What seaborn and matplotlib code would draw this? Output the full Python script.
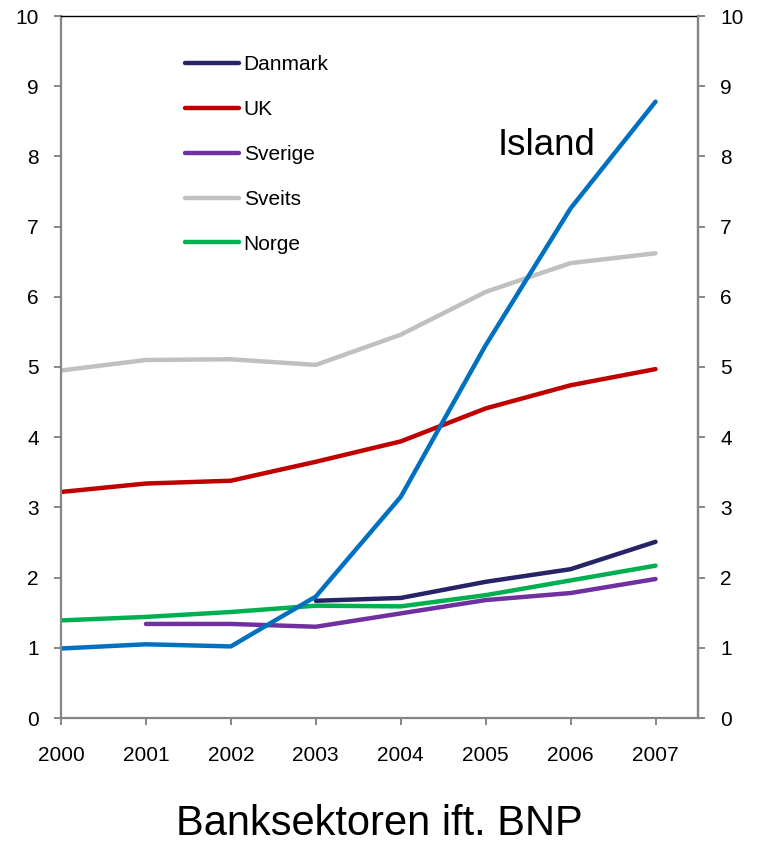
import numpy as np
import pandas as pd
import matplotlib
matplotlib.use("Agg")
import matplotlib.pyplot as plt
from matplotlib.lines import Line2D
import seaborn as sns

years = [2000, 2001, 2002, 2003, 2004, 2005, 2006, 2007]
danmark = [np.nan, np.nan, np.nan, 1.67, 1.71, 1.94, 2.12, 2.51]
uk = [3.22, 3.34, 3.38, 3.65, 3.94, 4.41, 4.74, 4.97]
sverige = [np.nan, 1.34, 1.34, 1.30, 1.49, 1.68, 1.78, 1.98]
sveits = [4.95, 5.10, 5.11, 5.03, 5.46, 6.07, 6.48, 6.62]
norge = [1.39, 1.44, 1.51, 1.60, 1.59, 1.75, 1.96, 2.17]
island = [0.99, 1.05, 1.02, 1.73, 3.15, 5.31, 7.26, 8.78]

series = {
    "Danmark": danmark,
    "UK": uk,
    "Sverige": sverige,
    "Sveits": sveits,
    "Norge": norge,
    "Island": island,
}
colors = {
    "Danmark": "#262466",
    "UK": "#C00000",
    "Sverige": "#7030A0",
    "Sveits": "#C0C0C0",
    "Norge": "#00B050",
    "Island": "#0070C0",
}
legend_order = ["Danmark", "UK", "Sverige", "Sveits", "Norge"]
line_w = 3.2

df = pd.DataFrame(
    [(y, name, v) for name, vals in series.items() for y, v in zip(years, vals)],
    columns=["År", "Land", "Verdi"],
).dropna()

sns.set_style("white")
plt.rcParams["font.family"] = ["Liberation Sans", "DejaVu Sans"]
plt.rcParams["text.color"] = "black"
plt.rcParams["xtick.labelcolor"] = "black"
plt.rcParams["ytick.labelcolor"] = "black"

fig = plt.figure(figsize=(7.58, 8.43), dpi=100)
ax = fig.add_axes([61 / 758, 1 - 718 / 843, 637 / 758, 702 / 843])

sns.lineplot(
    data=df, x="År", y="Verdi", hue="Land", palette=colors,
    linewidth=line_w, ax=ax, legend=False, sort=False,
)
for line in ax.get_lines():
    line.set_solid_capstyle("round")

ax.set_xlim(2000, 2007.5)
ax.set_ylim(0, 10)
ax.set_xticks(years)
ax.set_xticklabels([str(y) for y in years])
ax.set_yticks(range(0, 11))
ax.set_xlabel("")
ax.set_ylabel("")

spine_gray = "#868686"
for side in ["left", "bottom", "right"]:
    ax.spines[side].set_color(spine_gray)
    ax.spines[side].set_linewidth(1.6)
ax.spines["top"].set_color("black")
ax.spines["top"].set_linewidth(1.0)

ax.tick_params(axis="y", which="major", direction="out", length=5, width=1.4,
               color=spine_gray, labelcolor="black", labelsize=15, pad=11,
               left=True)
ax.tick_params(axis="x", which="major", direction="out", length=5, width=1.4,
               color=spine_gray, labelcolor="black", labelsize=15, pad=15,
               bottom=True)

# Mirrored value axis on the right-hand side
ax2 = ax.twinx()
ax2.set_ylim(0, 10)
ax2.set_yticks(range(0, 11))
for side in ["left", "bottom", "top"]:
    ax2.spines[side].set_visible(False)
ax2.spines["right"].set_color(spine_gray)
ax2.spines["right"].set_linewidth(1.6)
ax2.tick_params(axis="y", which="major", direction="out", length=5, width=1.4,
                color=spine_gray, labelcolor="black", labelsize=15, pad=11,
                right=True)
ax2.grid(False)

leg_handles = [
    Line2D([], [], color=colors[n], linewidth=line_w, solid_capstyle="round")
    for n in legend_order
]
ax.legend(
    leg_handles, legend_order, loc="upper left",
    bbox_to_anchor=(0.195, 0.944), frameon=False, fontsize=15,
    handlelength=2.6, handletextpad=0.2, labelspacing=1.24,
    borderpad=0, borderaxespad=0, labelcolor="black",
)

ax.text(2005.14, 8.02, "Island", fontsize=26.5, ha="left", va="baseline",
        color="black")

fig.text(379 / 758, 1 - 835 / 843, "Banksektoren ift. BNP", fontsize=30,
         ha="center", va="baseline", color="black")

fig.savefig("out.png", dpi=100)
